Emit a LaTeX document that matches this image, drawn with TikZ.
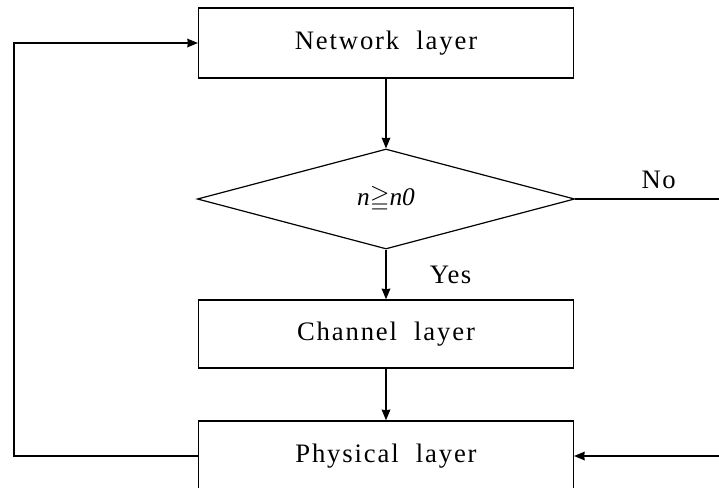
\documentclass[tikz,border=0pt]{standalone}
\usepackage{amssymb}
\usepackage{fontspec}
\setmainfont{Liberation Serif}
\usetikzlibrary{
  arrows.meta,
  shapes.geometric
}

\tikzset{
  layerbox/.style={draw,line width=1.1pt,minimum width=281pt,minimum height=52.5pt,
    font=\fontsize{20}{24}\selectfont\addfontfeature{LetterSpace=7}},
  test/.style={draw,diamond,line width=0.9pt,minimum width=283pt,minimum height=75pt,
    inner sep=0pt,font=\fontsize{19}{22}\selectfont},
  flow/.style={-{Stealth[length=8pt,width=6.5pt,inset=0.5pt]},line width=1pt},
  label/.style={font=\fontsize{20}{24}\selectfont\addfontfeature{LetterSpace=5}}
}

\begin{document}
\begin{tikzpicture}[>=Stealth,x=0.75pt,y=-0.75pt]

  \useasboundingbox (0,0) rectangle (719,487);
  \clip (0,0) rectangle (719,487);

  % layers and test
  \node[layerbox] (net) at (386,43) {Network\ \ layer};
  \node[test] (cond) at (386,199) {\textit{n}$\geqq$\textit{n0}};
  \node[layerbox,minimum height=51pt] (chan) at (386,334) {Channel\ \ layer};
  \node[layerbox] (phy) at (386,456) {Physical\ \ layer};

  % loose ends at the border
  \coordinate (noEnd)  at (719,199);
  \coordinate (backIn) at (719,456);
  \coordinate (loopL)  at (14,43);

  % main flow
  \draw[flow] (net) -- (cond);
  \draw[flow] (cond) -- (chan)
    node[pos=0.5,right=29pt,label] {Yes};
  \draw[flow] (chan) -- (phy);

  % branch No
  \draw[line width=1pt] (cond.east) -- (noEnd)
    node[pos=0.58,above=4pt,label] {No};
  \draw[flow] (backIn) -- (phy.east);

  % feedback to network layer
  \draw[flow] (phy.west) -- (phy.west -| loopL) |- (net.west);

\end{tikzpicture}
\end{document}
